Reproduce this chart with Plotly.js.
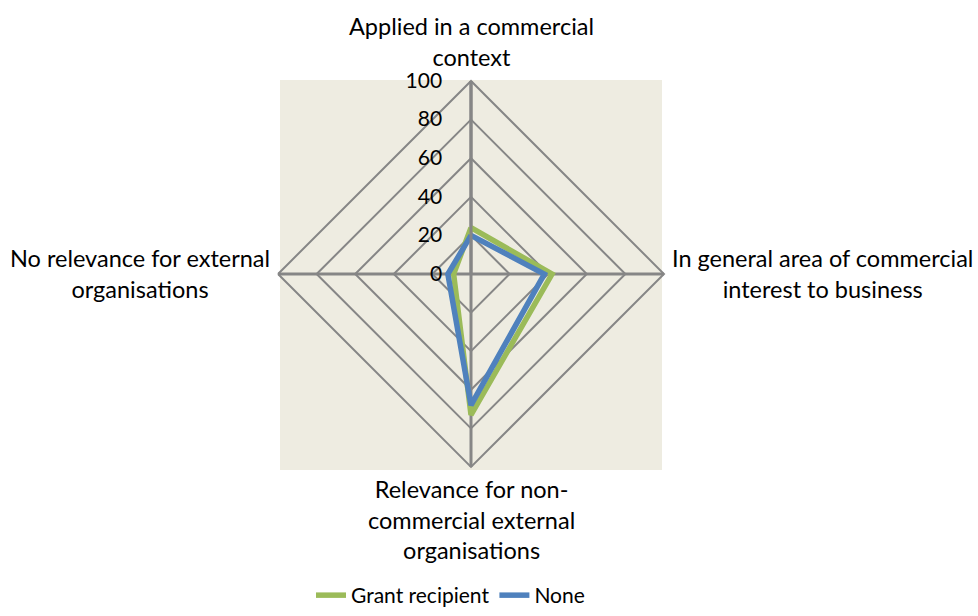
<!DOCTYPE html>
<html>
<head>
<meta charset="utf-8">
<script src="https://cdn.plot.ly/plotly-3.0.1.min.js"></script>
<style>html,body{margin:0;padding:0;background:#fff}#chart{width:978px;height:616px}</style>
</head>
<body>
<div id="chart"></div>
<script>
const categories = [
  "Applied in a commercial<br>context",
  "In general area of commercial<br>interest to business",
  "Relevance for non-<br>commercial external<br>organisations",
  "No relevance for external<br>organisations"
];
const grantRecipient = [24, 42, 73, 9];
const none = [20, 38, 68, 12];
const radialTicks = [0, 20, 40, 60, 80, 100];

function closed(a) { return a.concat([a[0]]); }

const W = 978, H = 616;
const dom = {x: [0.2843, 0.6789], y: [0.2419, 0.8685]};
const cx = (dom.x[0] + dom.x[1]) / 2, cy = (dom.y[0] + dom.y[1]) / 2;

const traces = [
  {type: 'scatterpolar', mode: 'lines', name: 'Grant recipient',
   r: closed(grantRecipient), theta: closed(categories),
   line: {color: '#9BBB59', width: 5.5}},
  {type: 'scatterpolar', mode: 'lines', name: 'None',
   r: closed(none), theta: closed(categories),
   line: {color: '#4F81BD', width: 5.5}}
];

const labelFont = {family: 'Lato, "Open Sans", sans-serif', size: 23.5, color: '#000'};
// category labels placed around the polar domain (top, right, bottom, left)
const annotations = [
  {text: categories[0], x: cx, y: dom.y[1], xanchor: 'center', yanchor: 'bottom', yshift: 8},
  {text: categories[1], x: dom.x[1], y: cy, xanchor: 'left', yanchor: 'middle', xshift: 6},
  {text: categories[2], x: cx, y: dom.y[0], xanchor: 'center', yanchor: 'top', yshift: -6},
  {text: categories[3], x: dom.x[0], y: cy, xanchor: 'right', yanchor: 'middle', xshift: -6}
].map(a => Object.assign({xref: 'paper', yref: 'paper', showarrow: false, align: 'center', font: labelFont}, a));

const layout = {
  width: W, height: H,
  margin: {l: 0, r: 0, t: 0, b: 0},
  paper_bgcolor: '#ffffff',
  font: {family: 'Lato, "Open Sans", sans-serif', size: 21, color: '#000'},
  showlegend: true,
  legend: {orientation: 'h', x: 0.318, xanchor: 'left', y: 0, yanchor: 'bottom',
           font: {size: 21}, itemwidth: 30, tracegroupgap: 0},
  annotations: annotations,
  shapes: [{type: 'rect', xref: 'paper', yref: 'paper', layer: 'below',
            x0: 0.2863, x1: 0.6769, y0: 0.237, y1: 0.870,
            fillcolor: '#EEECE1', line: {width: 0}}],
  polar: {
    domain: dom,
    bgcolor: 'rgba(0,0,0,0)',
    gridshape: 'linear',
    radialaxis: {
      range: [0, 100], tickvals: radialTicks, ticktext: radialTicks.map(String),
      angle: 90, tickangle: 90, side: 'counterclockwise',
      showline: true, linecolor: '#868686', linewidth: 3,
      gridcolor: '#868686', gridwidth: 2,
      ticks: 'outside', ticklen: 20, tickcolor: 'rgba(0,0,0,0)',
      tickfont: {size: 21, color: '#000'}
    },
    angularaxis: {
      rotation: 90, direction: 'clockwise', showticklabels: false,
      showline: true, linecolor: '#868686', linewidth: 2,
      gridcolor: '#868686', gridwidth: 3, ticks: ''
    }
  }
};

Plotly.newPlot('chart', traces, layout, {displayModeBar: false, staticPlot: true});
</script>
</body>
</html>
